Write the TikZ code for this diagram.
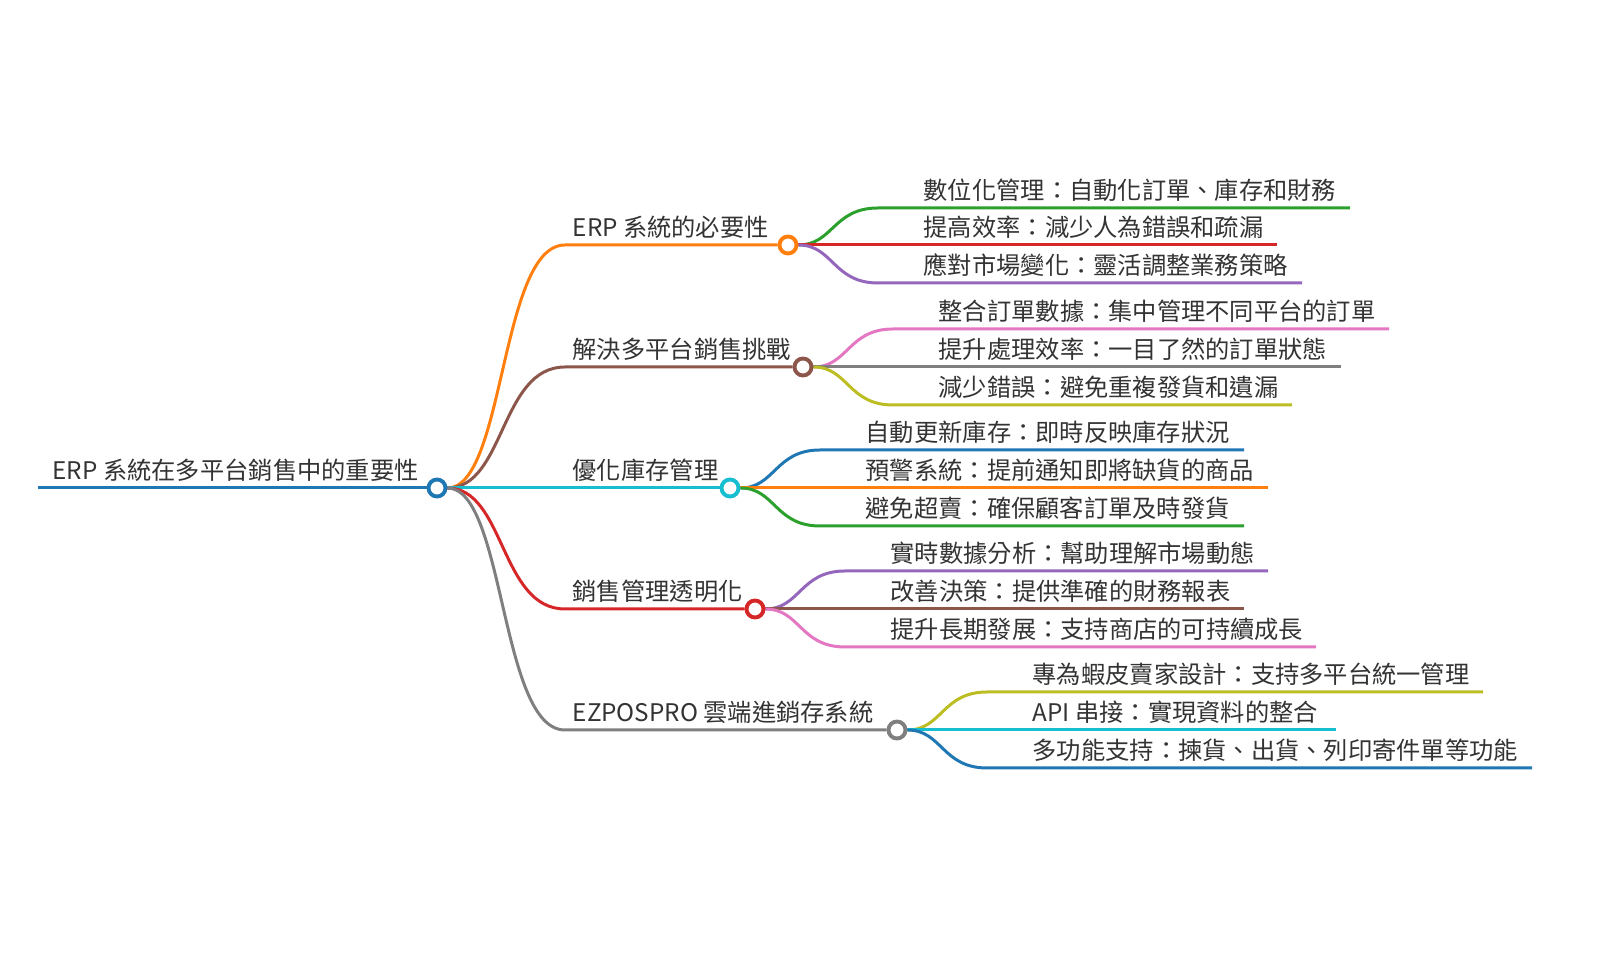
\documentclass[tikz,border=0pt]{standalone}
\usepackage{fontspec}
\newfontfamily\cjk{Noto Sans CJK TC}
\usetikzlibrary{positioning}
\definecolor{txt}{HTML}{333333}
\definecolor{corange}{HTML}{FF7F0E}
\definecolor{cbrown}{HTML}{8C564B}
\definecolor{ccyan}{HTML}{17BECF}
\definecolor{cred}{HTML}{D62728}
\definecolor{cgray}{HTML}{7F7F7F}
\definecolor{cblue}{HTML}{1F77B4}
\definecolor{cgreen}{HTML}{2CA02C}
\definecolor{cpurple}{HTML}{9467BD}
\definecolor{cpink}{HTML}{E377C2}
\definecolor{colive}{HTML}{BCBD22}
\pgfdeclarelayer{bg}
\pgfsetlayers{bg,main}
\tikzset{
  dot/.style={circle,draw,fill=white,line width=1.1pt,inner sep=0pt,minimum size=0.17cm},
  lbl/.style={anchor=base west,inner sep=0pt,text=txt,font=\cjk\fontsize{6.9}{8}\selectfont},
  edge/.style={line width=0.85pt}
}
\begin{document}
\begin{tikzpicture}[x=0.01cm,y=-0.01cm]
\useasboundingbox (0,0) rectangle (1609,971);

% Root
\coordinate (r0) at (38,488);
\node[dot,draw=cblue] (root) at (437,488) {};
\node[lbl] (rootlbl) at (52,480) {ERP 系統在多平台銷售中的重要性};
\begin{pgfonlayer}{bg}
\draw[edge,cblue] (r0) -- (root);
\end{pgfonlayer}

% Branches: name/circle x/y/colour/label
\foreach \n/\cx/\cy/\col/\t in {
  b1/788/245/corange/{ERP 系統的必要性},
  b2/803/367/cbrown/{解決多平台銷售挑戰},
  b3/730/488/ccyan/{優化庫存管理},
  b4/755/609/cred/{銷售管理透明化},
  b5/897/730/cgray/{EZPOSPRO 雲端進銷存系統}}{
  \node[dot,draw=\col] (\n) at (\cx,\cy) {};
  \coordinate (\n s) at (565,\cy);
  \node[lbl] (\n l) at (572,\cy-8) {\t};
  \begin{pgfonlayer}{bg}
  \draw[edge,\col] (root) .. controls (505,488) and (500,\cy) .. (\n s) -- (\n);
  \end{pgfonlayer}
}

% Leaves: branch/y/end x/colour/text
\foreach \b/\y/\ex/\col/\t in {
  b1/208/1350/cgreen/{數位化管理：自動化訂單、庫存和財務},
  b1/245/1277/cred/{提高效率：減少人為錯誤和疏漏},
  b1/283/1302/cpurple/{應對市場變化：靈活調整業務策略},
  b2/329/1389/cpink/{整合訂單數據：集中管理不同平台的訂單},
  b2/367/1341/cgray/{提升處理效率：一目了然的訂單狀態},
  b2/405/1292/colive/{減少錯誤：避免重複發貨和遺漏},
  b3/450/1244/cblue/{自動更新庫存：即時反映庫存狀況},
  b3/488/1268/corange/{預警系統：提前通知即將缺貨的商品},
  b3/526/1244/cgreen/{避免超賣：確保顧客訂單及時發貨},
  b4/571/1268/cpurple/{實時數據分析：幫助理解市場動態},
  b4/609/1244/cbrown/{改善決策：提供準確的財務報表},
  b4/647/1316/cpink/{提升長期發展：支持商店的可持續成長},
  b5/692/1483/colive/{專為蝦皮賣家設計：支持多平台統一管理},
  b5/730/1336/ccyan/{API 串接：實現資料的整合},
  b5/768/1532/cblue/{多功能支持：揀貨、出貨、列印寄件單等功能}}{
  \path (\b) ++(90,0) coordinate (m);
  \path (m |- 0,\y) coordinate (\b m\y);
  \coordinate (\b e\y) at (\ex,\y);
  \path (\b) ++(135,0) coordinate (tx);
  \node[lbl] (\b t\y) at (tx |- 0,\y-8) {\t};
  \begin{pgfonlayer}{bg}
  \draw[edge,\col] (\b) .. controls ([xshift=0.45cm]\b) and ([xshift=-0.45cm]\b m\y) .. (\b m\y) -- (\b e\y);
  \end{pgfonlayer}
}
\end{tikzpicture}
\end{document}
